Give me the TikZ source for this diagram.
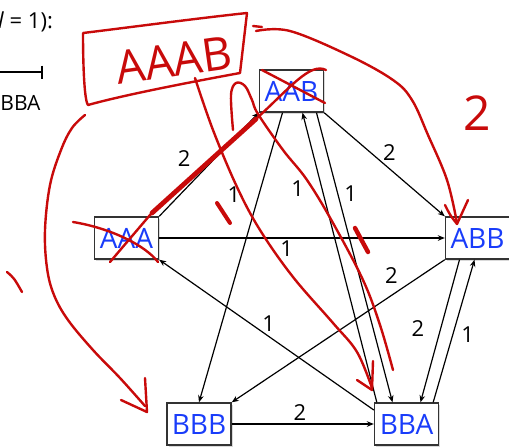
\documentclass[tikz,border=0pt]{standalone}
\usepackage{fontspec}
\setmainfont{Open Sans}
\usetikzlibrary{arrows.meta,shadows}

\definecolor{stateblue}{RGB}{25,60,250}
\definecolor{inkred}{RGB}{200,10,10}

\begin{document}
\begin{tikzpicture}[
  x=0.5pt, y=-0.5pt,
  state/.style={draw=black!80, line width=0.7pt, fill=white, minimum width=32pt, minimum height=21pt,
    inner sep=1pt, font=\fontsize{14}{14}\selectfont, text=stateblue,
    drop shadow={shadow xshift=0.8pt, shadow yshift=-0.8pt, opacity=0.3}},
  arrow/.style={-{Stealth[length=3.5pt, width=2.8pt]}, line width=0.6pt},
  weight/.style={font=\fontsize{11}{11}\selectfont, inner sep=2pt},
  pen/.style={draw=inkred, line width=1.2pt, line cap=round, line join=round},
  ink/.style={text=inkred, inner sep=0pt},
]
\useasboundingbox (0,0) rectangle (509,446);

% === LEFT-OVER TEXT AT THE EDGE ===
\node[font=\fontsize{11}{11}\selectfont, anchor=base east] (lvalue) at (60, 28) {(\textit{l} = 1):};
\coordinate (barL) at (-4, 72);
\coordinate (barR) at (43, 72);
\draw[-{Bar[width=6.5pt]}, line width=1pt] (barL) -- (barR);
\node[font=\fontsize{10.5}{10.5}\selectfont, anchor=base west, inner xsep=0pt] (oldBBA) at (0, 110) {BBA};

% === STATES ===
\node[state] (AAB) at (291.5, 91) {AAB};
\node[state] (AAA) at (126.5, 238) {AAA};
\node[state] (ABB) at (477.5, 238) {ABB};
\node[state] (BBB) at (199, 424) {BBB};
\node[state] (BBA) at (406.5, 424) {BBA};

% === TRANSITIONS ===
\draw[arrow] (AAA.north east) -- (AAB.south west) node[weight, pos=0.4, above left=2pt] {2};
\draw[arrow] (AAB.south east) -- (ABB.north west) node[weight, pos=0.385, right=4pt] {2};
\draw[arrow] (AAA.east) -- (ABB.west) node[weight, pos=0.446, below=-1pt] {1};
\draw[arrow] ([xshift=-4.5pt]AAB.south) -- (BBB.north) node[weight, pos=0.355, above left=4pt] {1};
\draw[arrow] ([xshift=1.5pt]BBA.north west) -- ([xshift=5.5pt]AAB.south) node[weight, pos=0.81, below left=4pt] {1};
\draw[arrow] ([xshift=12.5pt]AAB.south) -- ([xshift=-7pt]BBA.north) node[weight, pos=0.28, right=1pt] {1};
\draw[arrow] (ABB.south west) -- (BBB.north east) node[weight, pos=0.2, above left] {2};
\draw[arrow] ([yshift=7pt]BBA.west) -- (AAA.south east) node[weight, pos=0.49, above] {1};
\draw[arrow] ([xshift=-9pt]ABB.south) -- ([xshift=7pt]BBA.north) node[weight, pos=0.48, left=6pt] {2};
\draw[arrow] ([xshift=-3pt]BBA.north east) -- ([xshift=-1.5pt]ABB.south) node[weight, pos=0.475, right=2pt] {1};
\draw[arrow] (BBB.east) -- (BBA.west) node[weight, pos=0.48, above=-0.5pt] {2};

% === RED PEN NOTES ===
\draw[pen] (83,33) .. controls (140,26) and (200,18) .. (247,13) -- (240,73)
  .. controls (180,84) and (120,96) .. (88,105) .. controls (84,100) and (83,60) .. (83,33);
\node[ink, font=\fontsize{23}{23}\selectfont, rotate=8] (aaab) at (174,60) {AAAB};
\draw[pen] (253,26) -- (262,27);
\draw[pen] plot[smooth, tension=0.6] coordinates {(256,31) (290,31) (350,56) (393,80) (412,100) (428,135) (447,180) (457,223)};
\draw[pen] (445,205) .. controls (450,215) .. (457,224) .. controls (462,212) .. (468,200);
\node[ink, font=\fontsize{24}{24}\selectfont] (two) at (477,113) {2};

% crosses over AAB and AAA
\draw[pen] (262,70) -- (325,103);
\draw[pen] (110,262) -- (150,215) -- (257,118) .. controls (290,88) and (310,62) .. (326,70);
\draw[pen, line width=2.4pt] (152,213) -- (256,119);
\draw[pen] (73,222) .. controls (110,228) and (145,245) .. (158,262);

% long strokes down to BBB and BBA
\draw[pen] plot[smooth, tension=0.6] coordinates {(85,115) (72,128) (61,150) (50,185) (45,230) (47,268) (54,295) (68,320) (93,350) (120,378) (145,406)};
\draw[pen] (121,400) -- (147,412) -- (145,378);
\draw[pen] plot[smooth, tension=0.6] coordinates {(195,78) (213,130) (237,187) (260,230) (293,277) (333,323) (357,352) (372,388)};
\draw[pen] (357,380) -- (372,390) -- (373,361);
\draw[pen] plot[smooth, tension=0.6] coordinates {(233,130) (231,95) (236,83) (245,86) (252,100) (258,114) (283,150) (307,180) (333,223) (363,280) (380,325) (393,370)};

% small ticks
\draw[pen] (7,272) .. controls (14,278) .. (22,292);
\draw[pen, line width=2pt] (217,203) -- (230,223);
\draw[pen, line width=2.2pt] (355,228) -- (368,252);
\end{tikzpicture}
\end{document}
